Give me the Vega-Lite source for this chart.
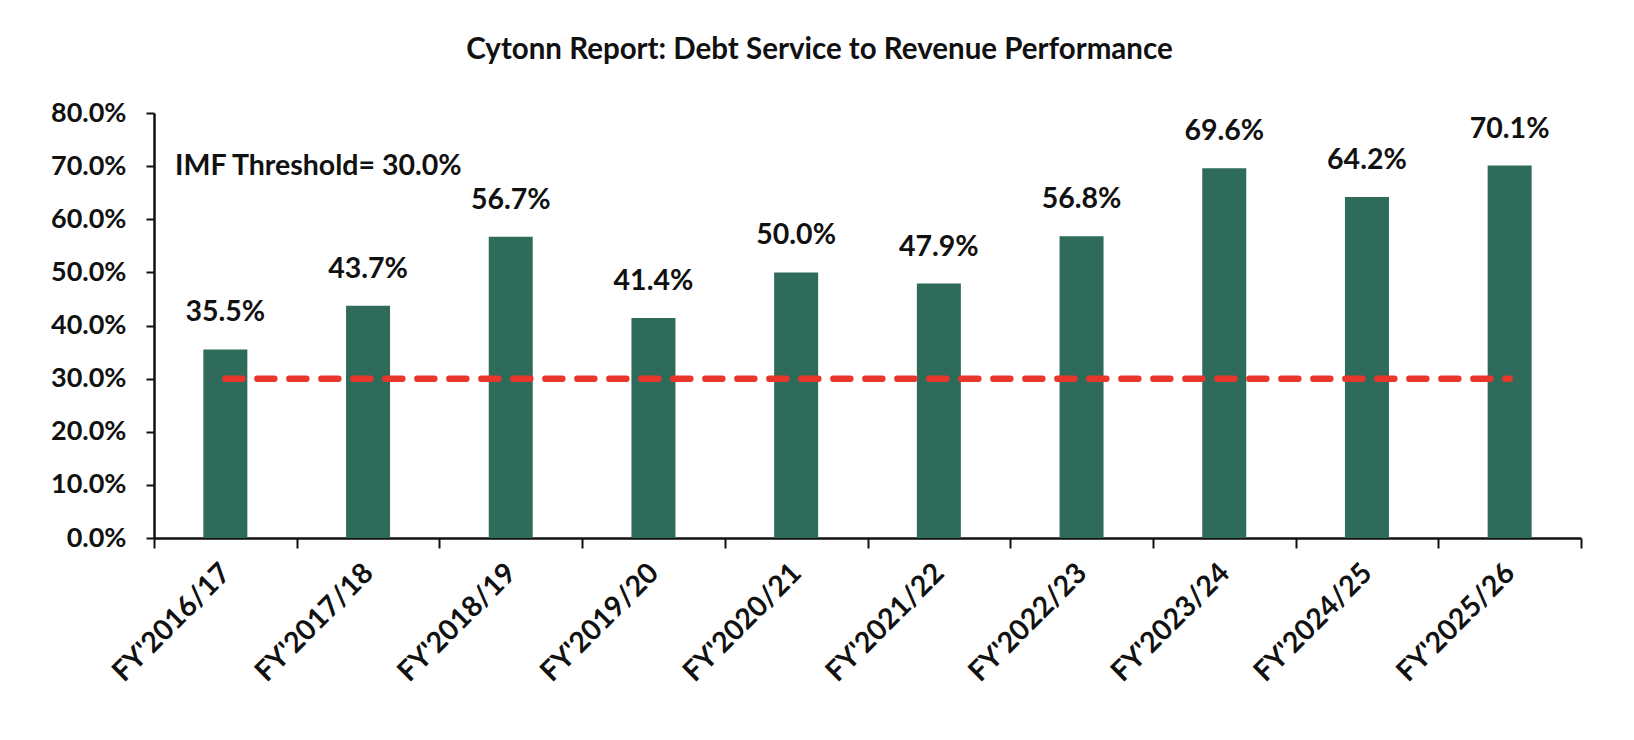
{
  "$schema": "https://vega.github.io/schema/vega-lite/v6.json",
  "autosize": "none",
  "width": 1427,
  "height": 425,
  "padding": {"left": 154, "top": 113, "right": 53, "bottom": 202},
  "background": "white",
  "config": {
    "view": {"stroke": null},
    "font": "Lato",
    "axis": {"labelFont": "Lato", "labelFontWeight": "bold", "labelColor": "#111111", "labelFontSize": 27}
  },
  "title": {
    "text": "Cytonn Report: Debt Service to Revenue Performance",
    "font": "Lato",
    "fontSize": 29.5,
    "fontWeight": "bold",
    "color": "#111111",
    "anchor": "middle",
    "dx": -48,
    "offset": 34
  },
  "data": {
    "values": [
      {"year": "FY'2016/17", "ratio": 0.355, "threshold": 0.3},
      {"year": "FY'2017/18", "ratio": 0.437, "threshold": 0.3},
      {"year": "FY'2018/19", "ratio": 0.567, "threshold": 0.3},
      {"year": "FY'2019/20", "ratio": 0.414, "threshold": 0.3},
      {"year": "FY'2020/21", "ratio": 0.500, "threshold": 0.3},
      {"year": "FY'2021/22", "ratio": 0.479, "threshold": 0.3},
      {"year": "FY'2022/23", "ratio": 0.568, "threshold": 0.3},
      {"year": "FY'2023/24", "ratio": 0.696, "threshold": 0.3},
      {"year": "FY'2024/25", "ratio": 0.642, "threshold": 0.3},
      {"year": "FY'2025/26", "ratio": 0.701, "threshold": 0.3}
    ]
  },
  "encoding": {
    "x": {
      "field": "year",
      "type": "nominal",
      "sort": null,
      "scale": {"paddingInner": 0, "paddingOuter": 0},
      "axis": {
        "title": null,
        "labelAngle": -45,
        "labelAlign": "right",
        "labelBaseline": "middle",
        "labelPadding": 20,
        "labelFontSize": 28.5,
        "tickBand": "extent",
        "tickSize": 10,
        "tickWidth": 2,
        "tickColor": "#111111",
        "domainColor": "#111111",
        "domainWidth": 2.5
      }
    }
  },
  "layer": [
    {
      "mark": {"type": "bar", "size": 44, "color": "#2E6B5B"},
      "encoding": {
        "y": {
          "field": "ratio",
          "type": "quantitative",
          "scale": {"domain": [0, 0.8], "nice": false},
          "axis": {
            "title": null,
            "format": ".1%",
            "values": [0, 0.1, 0.2, 0.3, 0.4, 0.5, 0.6, 0.7, 0.8],
            "grid": false,
            "tickSize": 8,
            "tickWidth": 2,
            "tickColor": "#111111",
            "domainColor": "#111111",
            "domainWidth": 2.5,
            "labelPadding": 20
          }
        }
      }
    },
    {
      "mark": {"type": "text", "baseline": "alphabetic", "dy": -28, "fontSize": 28.5, "fontWeight": "bold", "color": "#111111", "font": "Lato"},
      "encoding": {
        "y": {"field": "ratio", "type": "quantitative"},
        "text": {"field": "ratio", "type": "quantitative", "format": ".1%"}
      }
    },
    {
      "mark": {"type": "line", "color": "#E8372A", "strokeWidth": 6.5, "strokeDash": [17, 15], "strokeCap": "round"},
      "encoding": {
        "y": {"field": "threshold", "type": "quantitative"}
      }
    },
    {
      "data": {"values": [{"label": "IMF Threshold= 30.0%", "year": "FY'2016/17", "pos": 0.7}]},
      "mark": {"type": "text", "align": "left", "baseline": "middle", "dx": 21, "fontSize": 28.5, "fontWeight": "bold", "color": "#111111", "font": "Lato"},
      "encoding": {
        "x": {"field": "year", "type": "nominal", "bandPosition": 0},
        "y": {"field": "pos", "type": "quantitative"},
        "text": {"field": "label"}
      }
    }
  ]
}
